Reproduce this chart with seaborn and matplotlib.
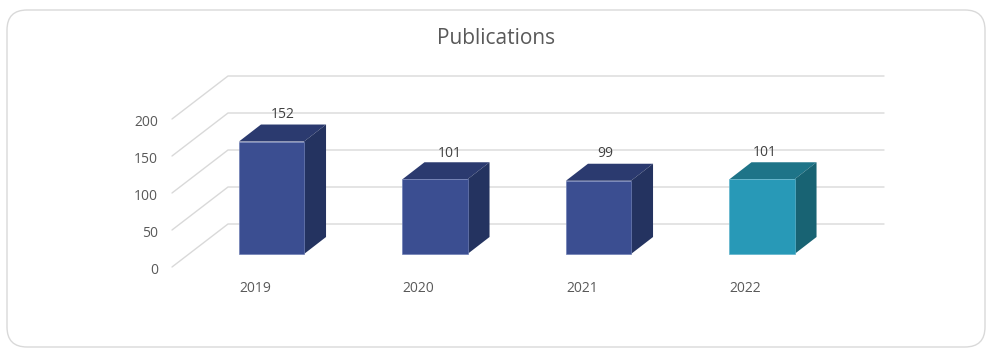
import matplotlib
matplotlib.use('Agg')
import matplotlib.pyplot as plt
from matplotlib.patches import FancyBboxPatch
from matplotlib.transforms import ScaledTranslation
import seaborn as sns

years = ['2019', '2020', '2021', '2022']
publications = [152, 101, 99, 101]
y_ticks = [0, 50, 100, 150, 200]

front_colors = ['#3b4e91', '#3b4e91', '#3b4e91', '#2899b7']
top_colors = ['#2b3a6f', '#2b3a6f', '#2b3a6f', '#1e7488']
side_colors = ['#243360', '#243360', '#243360', '#186373']
edge_colors = ['#6f7fb5', '#6f7fb5', '#6f7fb5', '#5fb4cc']

# data labels do not sit evenly over the bars in the original (pixels)
label_dx = [0, 4, -4, -8]
label_dy = [2, 1, 2, 2]

W, H = 992, 358
sns.set_theme(style='white')
plt.rcParams['font.family'] = ['Open Sans', 'DejaVu Sans']

fig = plt.figure(figsize=(W / 100, H / 100), dpi=100)

# rounded frame round the whole chart, in pixels
frame = FancyBboxPatch((7, H - 347), 978, 337, boxstyle='round,pad=0,rounding_size=20',
                       transform=None, fc='white', ec='#d9d9d9', lw=1, zorder=-1)
fig.add_artist(frame)

# axes runs from the floor's front left corner to the back right corner
left, right, bottom, top = 172, 884, 267, 76
ax = fig.add_axes([left / W, 1 - bottom / H, (right - left) / W, (bottom - top) / H])
ax.patch.set_alpha(0)

px_x = 1 / 163.5   # one pixel in category units
px_y = 1 / 0.74    # one pixel in value units
bar_w = 0.398

sns.barplot(x=years, y=publications, hue=years, palette=front_colors, legend=False,
            width=bar_w, saturation=1, ax=ax)

ax.set_xlim(-0.5 - (271.5 - 81.75 - left) * px_x, -0.5 - (271.5 - 81.75 - right) * px_x)
ax.set_ylim(-(bottom - 254) * px_y, (254 - top) * px_y)

# floor and back wall lines
for v in y_ticks:
    y0 = v - 13 * px_y
    y1 = v + 30 * px_y
    x0 = ax.get_xlim()[0]
    x1 = x0 + 56 * px_x
    ax.plot([x0, x1, ax.get_xlim()[1]], [y0, y1, y1], color='#d9d9d9', lw=1.0, zorder=1, clip_on=False)

# extruded top and side of every bar
dx = 22 * px_x
dy = 17 * px_y
for i, v in enumerate(publications):
    x_l = i - bar_w / 2
    x_r = i + bar_w / 2
    ax.fill([x_l, x_l + dx, x_r + dx, x_r], [v, v + dy, v + dy, v], color=top_colors[i], lw=0, zorder=3)
    ax.fill([x_r, x_r + dx, x_r + dx, x_r], [0, dy, v + dy, v], color=side_colors[i], lw=0, zorder=3)
    ax.annotate(str(v), (i + dx / 2, v + dy), xytext=(label_dx[i] * 0.72, 0.5 + label_dy[i] * 0.72),
                textcoords='offset points', ha='center', va='bottom', fontsize=10,
                color='#404040', zorder=5)

for p, c in zip(ax.patches, edge_colors):
    p.set_zorder(4)
    p.set_edgecolor(c)
    p.set_linewidth(0.5)

ax.set_yticks(y_ticks)
ax.tick_params(axis='y', length=0, pad=10, labelsize=10, labelcolor='#595959')
ax.tick_params(axis='x', length=0, pad=8, labelsize=10, labelcolor='#595959')

# tick labels sit lower/left of their marks in the 3D view
y_shift = ScaledTranslation(0, -14.5 / 100, fig.dpi_scale_trans)
for lab in ax.get_yticklabels():
    lab.set_transform(lab.get_transform() + y_shift)
x_shift = ScaledTranslation(-16.5 / 100, -3 / 100, fig.dpi_scale_trans)
for lab in ax.get_xticklabels():
    lab.set_transform(lab.get_transform() + x_shift)

sns.despine(ax=ax, left=True, bottom=True)
ax.set_xlabel('')
ax.set_ylabel('')

fig.text(0.5, 1 - 39 / H, 'Publications', ha='center', va='center', fontsize=15, color='#595959')

fig.savefig('out.png', dpi=100, facecolor='white')
